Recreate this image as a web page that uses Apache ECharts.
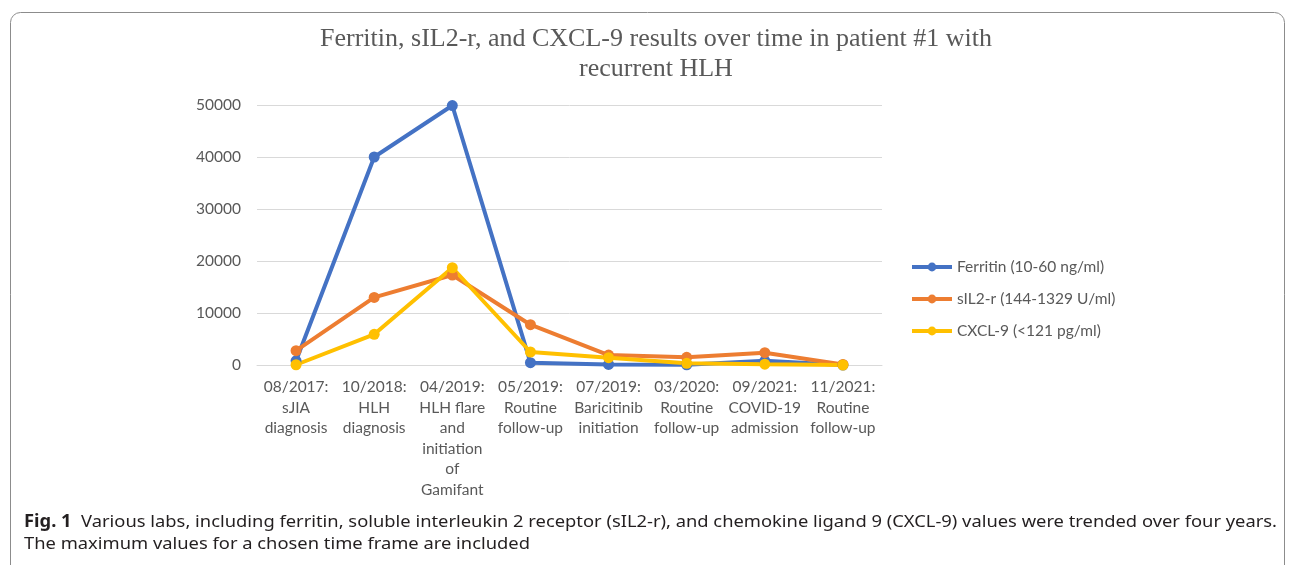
<!DOCTYPE html>
<html><head><meta charset="utf-8">
<script src="https://cdn.jsdelivr.net/npm/echarts@6/dist/echarts.min.js"></script>
<style>html,body{margin:0;padding:0;background:#fff}#c{width:1295px;height:565px}</style>
</head><body><div id="c"></div>
<script>
const categories = [
  "08/2017:\nsJIA\ndiagnosis",
  "10/2018:\nHLH\ndiagnosis",
  "04/2019:\nHLH flare\nand\ninitiation\nof\nGamifant",
  "05/2019:\nRoutine\nfollow-up",
  "07/2019:\nBaricitinib\ninitiation",
  "03/2020:\nRoutine\nfollow-up",
  "09/2021:\nCOVID-19\nadmission",
  "11/2021:\nRoutine\nfollow-up"
];
const ferritin = [800, 40000, 49900, 450, 100, 50, 800, 0];
const sil2r = [2750, 13000, 17300, 7750, 1900, 1480, 2370, 100];
const cxcl9 = [50, 5900, 18700, 2500, 1400, 330, 150, 0];
const seriesNames = ["Ferritin (10-60 ng/ml)", "sIL2-r (144-1329 U/ml)", "CXCL-9 (<121 pg/ml)"];
const titleText = "Ferritin, sIL2-r, and CXCL-9 results over time in patient #1 with\nrecurrent HLH";
const captionBold = "Fig. 1";
const captionLine1 = "Various labs, including ferritin, soluble interleukin 2 receptor (sIL2-r), and chemokine ligand 9 (CXCL-9) values were trended over four years.";
const captionLine2 = "The maximum values for a chosen time frame are included";

const colors = ["#4472C4", "#ED7D31", "#FFC000"];
const capFont = '17px "Noto Sans"';
const capBoldFont = 'bold 17px "Noto Sans"';
function measure(t, f){const c=document.createElement('canvas').getContext('2d');c.font=f;return c.measureText(t).width;}
const w1 = measure(captionBold, capBoldFont) + measure("  " + captionLine1, capFont);
const sx = 1253 / w1;

const chart = echarts.init(document.getElementById('c'));
function mk(name, data, i){
  return {name, type:'line', data, symbol:'circle', symbolSize:11,
    lineStyle:{width:4,color:colors[i]}, itemStyle:{color:colors[i]}};
}
chart.setOption({
  animation:false,
  legend:{orient:'vertical', left:905, top:254, itemGap:16, itemWidth:40, itemHeight:11,
    lineStyle:{width:4},
    textStyle:{fontFamily:'Lato', fontSize:15.5, color:'#595959'}, data:seriesNames},
  grid:{left:257, right:413, top:105, bottom:200},
  xAxis:{type:'category', data:categories, boundaryGap:true,
    axisLine:{lineStyle:{color:'#d9d9d9'}}, axisTick:{show:false},
    axisLabel:{interval:0, margin:12, fontFamily:'Lato', fontSize:15.5, color:'#595959', lineHeight:20.5}},
  yAxis:{type:'value', min:0, max:50000, interval:10000,
    axisLine:{show:false}, axisTick:{show:false},
    splitLine:{lineStyle:{color:'#d9d9d9'}},
    axisLabel:{margin:16, fontFamily:'Lato', fontSize:15.5, color:'#595959', formatter:v=>String(v)}},
  series:[mk(seriesNames[0], ferritin, 0), mk(seriesNames[1], sil2r, 1), mk(seriesNames[2], cxcl9, 2)],
  graphic:[
    {type:'rect', shape:{x:10.5, y:12.5, width:1274, height:600, r:10}, style:{fill:'none', stroke:'#8c8c8c', lineWidth:1}},
    {type:'text', x:656, y:24, style:{text:titleText, font:'26px "Liberation Serif"', fill:'#595959',
      textAlign:'center', lineHeight:30}},
    {type:'text', x:24, y:522, scaleX:sx, style:{
      text:'{b|' + captionBold + '}{n|  ' + captionLine1 + '}',
      verticalAlign:'middle',
      rich:{b:{font:capBoldFont, fill:'#231f20'}, n:{font:capFont, fill:'#231f20'}}}},
    {type:'text', x:24, y:544, scaleX:sx, style:{
      text:captionLine2, font:capFont, fill:'#231f20', verticalAlign:'middle'}}
  ]
});
</script></body></html>
